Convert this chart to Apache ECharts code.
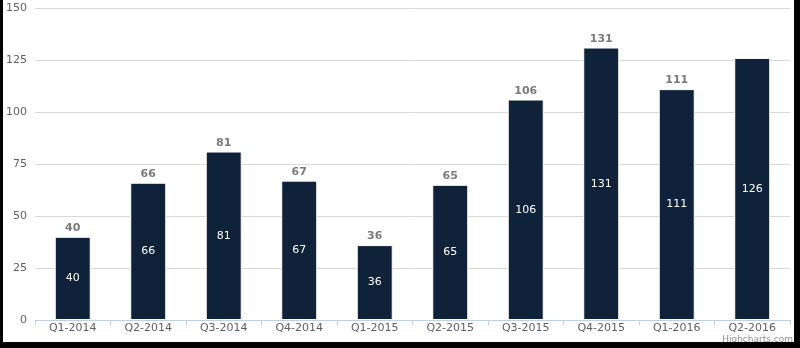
<!DOCTYPE html>
<html><head><meta charset="utf-8">
<script src="https://cdn.jsdelivr.net/npm/echarts@6/dist/echarts.min.js"></script>
<style>
html,body{margin:0;padding:0;background:#000;width:800px;height:348px;overflow:hidden}
#c{position:absolute;left:3px;top:0;width:791px;height:342px;background:#fff}
</style></head><body><div id="c"></div>
<script>
const categories = ['Q1-2014','Q2-2014','Q3-2014','Q4-2014','Q1-2015','Q2-2015','Q3-2015','Q4-2015','Q1-2016','Q2-2016'];
const values = [40, 66, 81, 67, 36, 65, 106, 131, 111, 126];
const yTicks = [0, 25, 50, 75, 100, 125, 150];
const hiddenTopLabel = ['Q2-2016'];

const font = 'DejaVu Sans';
const chart = echarts.init(document.getElementById('c'), null, {renderer:'canvas'});
chart.setOption({
  animation:false,
  backgroundColor:'#fff',
  grid:{left:31,right:4,top:8,bottom:22,containLabel:false},
  xAxis:{type:'category',data:categories,
    axisLine:{lineStyle:{color:'#C0D0E0',width:1}},
    axisTick:{show:true,length:5,lineStyle:{color:'#C0D0E0'}},
    axisLabel:{color:'#606060',fontFamily:font,fontSize:11,margin:3}},
  yAxis:{type:'value',min:yTicks[0],max:yTicks[yTicks.length-1],interval:25,
    axisLine:{show:false},axisTick:{show:false},
    splitLine:{lineStyle:{color:'#D8D8D8'}},
    axisLabel:{color:'#606060',fontFamily:font,fontSize:11,margin:8}},
  series:[
    {type:'bar',data:values.map((v,i)=>({value:v,label:{show:hiddenTopLabel.indexOf(categories[i])<0}})),barWidth:36,
     itemStyle:{color:'#0F2239',borderColor:'#fff',borderWidth:1},
     label:{show:true,position:'top',distance:3,color:'#7a7a7a',fontFamily:font,fontSize:11,fontWeight:'bold'}},
    {type:'bar',data:values,barWidth:36,barGap:'-100%',
     itemStyle:{color:'rgba(0,0,0,0)'},silent:true,
     label:{show:true,position:'inside',color:'#fff',fontFamily:font,fontSize:11}}
  ],
  graphic:[{type:'text',right:1,bottom:-2,style:{text:'Highcharts.com',fill:'#909090',font:'9px '+font}}]
});
</script></body></html>
